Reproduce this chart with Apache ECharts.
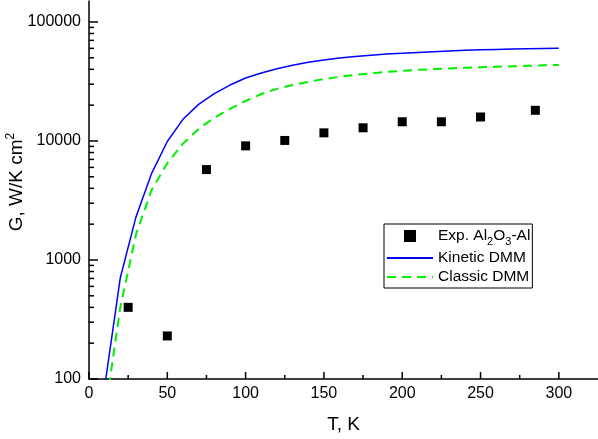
<!DOCTYPE html>
<html>
<head>
<meta charset="utf-8">
<script src="https://cdn.jsdelivr.net/npm/echarts@6/dist/echarts.min.js"></script>
<style>
html,body{margin:0;padding:0;background:#fff;}
#chart{width:598px;height:439px;}
</style>
</head>
<body>
<div id="chart"></div>
<script>
// Model curves (T in K, G in W/K cm^2)
const modelT = [10,20,30,40,50,60,70,80,90,100,110,120,130,140,150,160,170,180,190,200,210,220,230,240,250,260,270,280,290,300];
const kineticDMM = [86,710,2300,5350,9900,15200,20300,25000,29500,33800,37200,40500,43300,45800,48000,49800,51300,52500,53700,54700,55500,56300,57100,57800,58400,58800,59200,59500,59800,60000];
const classicDMM = [49,400,1640,3880,6500,9500,12600,15700,18600,21700,24800,27400,29500,31400,33100,34600,35900,37000,38000,38900,39600,40200,40700,41200,41600,42000,42400,42800,43200,43500];
// Experimental points
const expT = [25,50,75,100,125,150,175,200,225,250,285];
const expG = [400,230,5750,9100,10100,11700,12900,14500,14500,15900,18100];
// Tick values
const xMajorTicks = [0,50,100,150,200,250,300];
const xMinorTicks = [25,75,125,175,225,275];
const yMajorTicks = [100,1000,10000,100000];
const yMinorTicks = [200,300,400,500,600,700,800,900,2000,3000,4000,5000,6000,7000,8000,9000,20000,30000,40000,50000,60000,70000,80000,90000];

const X_MIN = 0, X_MAX = 325, Y_MIN = 100, Y_MAX = 150000;
const FONT = "'Liberation Sans', Arial, sans-serif";

const tickData = [];
xMajorTicks.forEach(v => tickData.push([v, Y_MIN, 0]));
xMinorTicks.forEach(v => tickData.push([v, Y_MIN, 1]));
yMajorTicks.forEach(v => tickData.push([X_MIN, v, 2]));
yMinorTicks.forEach(v => tickData.push([X_MIN, v, 3]));

const chart = echarts.init(document.getElementById('chart'), null, {renderer: 'canvas'});
chart.setOption({
  animation: false,
  textStyle: {fontFamily: FONT},
  grid: {left: 89, right: 0, top: 1, bottom: 60, containLabel: false, outerBoundsMode: 'none'},
  legend: {
    orient: 'vertical',
    left: 384, top: 224,
    padding: [4, 2, 3, 2],
    itemGap: 3,
    itemWidth: 46,
    itemHeight: 12,
    borderColor: '#000',
    borderWidth: 1,
    align: 'left',
    data: [
      {name: 'Exp. Al2O3-Al', icon: 'path://M0,0H10V10H0Z'},
      {name: 'Kinetic DMM', itemStyle: {opacity: 0}},
      {name: 'Classic DMM', itemStyle: {opacity: 0}}
    ],
    textStyle: {
      fontFamily: FONT, fontSize: 15.5, color: '#000',
      rich: {sub: {fontFamily: FONT, fontSize: 11, color: '#000', padding: [11, 0, 0, 0]}}
    },
    formatter: function (name) {
      if (name === 'Exp. Al2O3-Al') return 'Exp. Al{sub|2}O{sub|3}-Al';
      return name;
    }
  },
  xAxis: {
    type: 'value',
    min: X_MIN, max: X_MAX, interval: 50,
    name: 'T, K',
    nameLocation: 'middle',
    nameGap: 36,
    nameMoveOverlap: false,
    nameTextStyle: {fontFamily: FONT, fontSize: 19, color: '#000'},
    axisLine: {onZero: false, lineStyle: {color: '#000', width: 1.5}},
    axisTick: {show: false},
    splitLine: {show: false},
    axisLabel: {fontFamily: FONT, fontSize: 16, color: '#000', margin: 7, showMaxLabel: false}
  },
  yAxis: {
    type: 'log',
    logBase: 10,
    min: Y_MIN, max: Y_MAX,
    name: 'G, W/K cm{sup|2}',
    nameLocation: 'middle',
    nameGap: 60,
    nameMoveOverlap: false,
    nameTextStyle: {
      fontFamily: FONT, fontSize: 19, color: '#000',
      padding: [0, 0, 0, 16],
      rich: {sup: {fontFamily: FONT, fontSize: 12, color: '#000', padding: [0, 0, 12, 0]}}
    },
    axisLine: {lineStyle: {color: '#000', width: 1.5}},
    axisTick: {show: false},
    minorTick: {show: false},
    splitLine: {show: false},
    axisLabel: {
      fontFamily: FONT, fontSize: 16, color: '#000', margin: 8, showMaxLabel: false,
      formatter: v => String(Math.round(v))
    }
  },
  series: [
    {
      name: 'Exp. Al2O3-Al',
      type: 'scatter',
      symbol: 'rect',
      symbolSize: 9,
      itemStyle: {color: '#000', opacity: 1},
      data: expT.map((t, i) => [t, expG[i]]),
      z: 4
    },
    {
      name: 'Kinetic DMM',
      type: 'line',
      symbol: 'none',
      showSymbol: false,
      clip: true,
      lineStyle: {color: '#0000ff', width: 1.5},
      itemStyle: {color: '#0000ff'},
      data: modelT.map((t, i) => [t, kineticDMM[i]]),
      z: 3
    },
    {
      name: 'Classic DMM',
      type: 'line',
      symbol: 'none',
      showSymbol: false,
      clip: true,
      lineStyle: {color: '#00f000', width: 2, type: [9, 6]},
      itemStyle: {color: '#00f000'},
      data: modelT.map((t, i) => [t, classicDMM[i]]),
      z: 3
    },
    {
      name: 'ticks',
      type: 'custom',
      silent: true,
      clip: false,
      z: 6,
      data: tickData,
      renderItem: function (params, api) {
        const p = api.coord([api.value(0), api.value(1)]);
        const k = api.value(2);
        const len = [7, 4, 9, 5][k];
        const shape = k < 2
          ? {x1: p[0], y1: p[1], x2: p[0], y2: p[1] - len}
          : {x1: p[0], y1: p[1], x2: p[0] + len, y2: p[1]};
        return {type: 'line', shape: shape, style: {stroke: '#000', lineWidth: 1.5}};
      }
    }
  ]
});
</script>
</body>
</html>
